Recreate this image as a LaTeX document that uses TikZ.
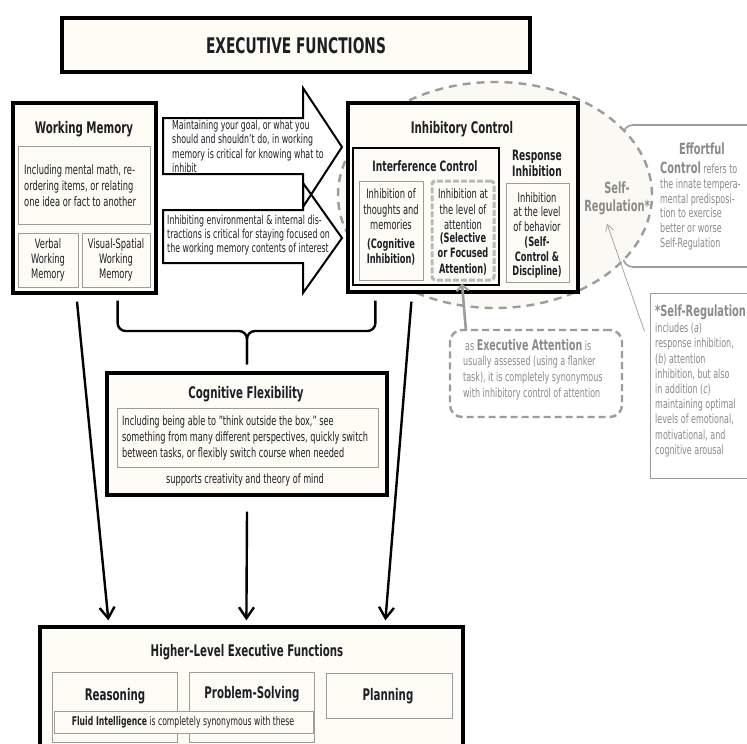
\documentclass[tikz,border=0pt]{standalone}
\usepackage{fontspec}
\setmainfont{DejaVu Sans}[FakeStretch=0.64]
\usetikzlibrary{arrows.meta,shapes.geometric,calc}
\definecolor{cream}{HTML}{FDFCF5}
\definecolor{srfill}{HTML}{FAF9F3}
\definecolor{ink}{HTML}{1E1E26}
\definecolor{gtxt}{HTML}{8A8A8A}
\definecolor{gline}{HTML}{9C9C9C}
\begin{document}
\begin{tikzpicture}[x=1pt,y=-1pt,
  bigbox/.style={draw=black, line width=3.2pt, fill=cream, inner sep=0pt},
  midbox/.style={draw=black, line width=2pt, fill=cream, inner sep=0pt},
  thinbox/.style={draw=gline, line width=0.9pt, fill=cream, inner sep=0pt},
  ttl/.style={font=\bfseries\fontsize{16}{18}\selectfont, text=ink, inner sep=0pt},
  sttl/.style={font=\bfseries\fontsize{14.3}{16}\selectfont, text=ink, inner sep=0pt, align=center},
  body/.style={font=\fontsize{13}{16}\selectfont, text=ink, inner sep=0pt},
  bodyb/.style={font=\bfseries\fontsize{12.9}{14.5}\selectfont, text=ink, inner sep=0pt, align=center},
  small/.style={font=\fontsize{12.3}{14.3}\selectfont, text=ink, inner sep=0pt, align=left},
  gnote/.style={font=\fontsize{12.5}{15.2}\selectfont, text=gtxt, inner sep=0pt, align=left},
  gbold/.style={font=\bfseries\fontsize{15.4}{18}\selectfont, text=gtxt, inner sep=0pt, align=center},
  flow/.style={line width=2.4pt, -{Straight Barb[length=11pt,width=15pt,line width=2.4pt]}},
  brace/.style={line width=2.4pt, rounded corners=8pt},
  blockarrow/.style={draw=black, line width=2pt, line join=miter}
]
\clip (0,0) rectangle (747,744);
\fill[white] (0,0) rectangle (747,744);

% ---------- title ----------
\node[bigbox, minimum width=468pt, minimum height=54pt] (ef) at (296,45) {};
\node[font=\bfseries\fontsize{21.5}{24}\selectfont, text=ink, inner sep=0pt] (eft) at (296,46) {EXECUTIVE FUNCTIONS};

% ---------- effortful control & self-regulation ellipse ----------
\node[draw=gline, line width=1.6pt, rounded corners=10pt, fill=white, minimum width=142pt, minimum height=142pt, inner sep=0pt] (efc) at (694,196) {};
\node[ellipse, fill=srfill, draw=gline, line width=2.4pt, dash pattern=on 8pt off 6pt, minimum width=314pt, minimum height=226pt, inner sep=0pt] (sr) at (495,195) {};

\node[gbold] (srt) at (617,198) {Self-\\Regulation*};
\node[gbold] (eft1) at (702,149) {Effortful};
\node[gnote, anchor=west] (eft2) at (660,168) {{\bfseries\fontsize{15.4}{16}\selectfont Control} refers to};
\node[gnote, font=\fontsize{12.5}{14.8}\selectfont, anchor=west] (eft3) at (660,214.5) {the innate tempera-\\mental predisposi-\\tion to exercise\\better or worse\\Self-Regulation};

% ---------- working memory ----------
\node[bigbox, minimum width=143pt, minimum height=190pt] (wm) at (84.5,198) {};
\node[ttl] (wmt) at (84,129) {Working Memory};
\node[thinbox, minimum width=132pt, minimum height=78pt] (wmi) at (84,185) {};
\node[body, align=left, anchor=west] (wmit) at (24,186) {Including mental math, re-\\ordering items, or relating\\one idea or fact to another};
\node[thinbox, minimum width=60pt, minimum height=54pt] (vwm) at (48,260) {};
\node[body, align=center, font=\fontsize{13}{15}\selectfont] (vwmt) at (48,260) {Verbal\\Working\\Memory};
\node[thinbox, minimum width=68pt, minimum height=54pt] (vswm) at (116,260) {};
\node[body, align=center, font=\fontsize{13}{15}\selectfont] (vswmt) at (116,260) {Visual-Spatial\\Working\\Memory};

% ---------- block arrows ----------
\fill[white] (163,118) -- (303,118) -- (303,88) -- (342,147) -- (303,207) -- (303,174) -- (163,174) -- cycle;
\fill[white] (163,210) -- (303,210) -- (303,183) -- (342,238) -- (303,293) -- (303,263) -- (163,263) -- cycle;
\draw[blockarrow] (163,118) -- (303,118) -- (303,88) -- (342,147) -- (303,207) -- (303,174) -- (163,174) -- cycle;
\draw[blockarrow] (163,210) -- (303,210) -- (303,183) -- (342,238) -- (303,293) -- (303,263) -- (163,263) -- cycle;
\node[small, anchor=west] (a1t) at (172,146.5) {Maintaining your goal, or what you\\should and shouldn't do, in working\\memory is critical for knowing what to\\inhibit};
\node[small, font=\fontsize{12.3}{14}\selectfont, anchor=west] (a2t) at (167,235) {Inhibiting environmental \& internal dis-\\tractions is critical for staying focused on\\the working memory contents of interest};

% ---------- inhibitory control ----------
\node[bigbox, minimum width=230pt, minimum height=189pt] (ic) at (463,197.5) {};
\node[ttl] (ict) at (462,129) {Inhibitory Control};
\node[midbox, minimum width=146pt, minimum height=137pt] (intc) at (426,216.5) {};
\node[sttl] (intct) at (425,166) {Interference Control};
\node[thinbox, minimum width=64pt, minimum height=99pt] (s1) at (391,230.5) {};
\node[body, align=center, font=\fontsize{13}{15.5}\selectfont] (s1a) at (391,209.5) {Inhibition of\\thoughts and\\memories};
\node[bodyb] (s1b) at (391,252) {(Cognitive\\Inhibition)};
\node[draw=gray!55, line width=3pt, dash pattern=on 6pt off 2pt, rounded corners=3pt, fill=cream, minimum width=62pt, minimum height=99pt, inner sep=0pt] (s2) at (463,230.5) {};
\node[body, align=center, font=\fontsize{13}{15.5}\selectfont] (s2a) at (463,209.5) {Inhibition at\\the level of\\attention};
\node[bodyb, font=\bfseries\fontsize{12.9}{15.5}\selectfont] (s2b) at (463,253.5) {(Selective\\or Focused\\Attention)};
\node[sttl] (rit) at (537,163) {Response\\Inhibition};
\node[thinbox, minimum width=63pt, minimum height=99pt] (s3) at (537.5,232.5) {};
\node[body, align=center, font=\fontsize{13}{14.5}\selectfont] (s3a) at (537,212) {Inhibition\\at the level\\of behavior};
\node[bodyb] (s3b) at (537,257.5) {(Self-\\Control \&\\Discipline)};

% ---------- executive attention ----------
\node[draw=gline, line width=2.4pt, dash pattern=on 7pt off 4pt, rounded corners=12pt, fill=white, minimum width=172pt, minimum height=87pt, inner sep=0pt] (ea) at (536,373.5) {};
\node[gnote, anchor=west] (ea1) at (465,345) {as {\bfseries\fontsize{14.8}{16}\selectfont Executive Attention} is};
\node[gnote, font=\fontsize{12.5}{16}\selectfont, anchor=west] (ea2) at (463,378) {usually assessed (using a flanker\\task), it is completely synonymous\\with inhibitory control of attention};
\draw[gline, line width=2.6pt, -{Straight Barb[length=6pt,width=12pt,line width=2pt]}] ($(ea.north west)+(17,0)$) -- ($(s2.south)+(-1,2)$);

% ---------- self-regulation note ----------
\node[draw=gline, line width=1pt, fill=white, minimum width=120pt, minimum height=185pt, inner sep=0pt] (srn) at (710,385.5) {};
\node[gbold, anchor=west] (srn1) at (655,312) {*Self-Regulation};
\node[gnote, anchor=west] (srn2) at (655,390) {includes (\textit{a})\\response inhibition,\\(\textit{b}) attention\\inhibition, but also\\in addition (\textit{c})\\maintaining optimal\\levels of emotional,\\motivational, and\\cognitive arousal};
\draw[gline, line width=0.7pt, -{Straight Barb[length=7pt,width=8pt]}] ($(srn.north west)+(-5,39)$) -- ($(srt.south)+(-10,9)$);

% ---------- cognitive flexibility ----------
\node[bigbox, minimum width=280pt, minimum height=122pt] (cf) at (247,434) {};
\node[ttl] (cft) at (246,394) {Cognitive Flexibility};
\node[thinbox, minimum width=261pt, minimum height=59pt] (cfi) at (247.5,437.5) {};
\node[body, align=left, anchor=west, font=\fontsize{12.8}{16}\selectfont] (cfit) at (122,438) {Including being able to "think outside the box," see\\something from many different perspectives, quickly switch\\between tasks, or flexibly switch course when needed};
\node[body, font=\fontsize{12.8}{14}\selectfont] (cfs) at (245,480) {supports creativity and theory of mind};

% ---------- brace ----------
\coordinate (bl) at ($(wm.south east)+(-40,6)$);
\coordinate (br) at ($(ic.south west)+(29,7)$);
\coordinate (bm) at ($(cf.north)+(0,-7)$);
\coordinate (bj) at (247,331);
\draw[brace] (bl) |- (bj) -- (bm);
\draw[brace] (br) |- (bj) -- (bm);

% ---------- higher-level executive functions ----------
\node[bigbox, minimum width=423pt, minimum height=140pt] (hef) at (251.5,697) {};
\node[ttl] (heft) at (247,652) {Higher-Level Executive Functions};
\node[thinbox, minimum width=125pt, minimum height=70pt] (rs) at (114.5,707) {};
\node[thinbox, minimum width=125pt, minimum height=70pt] (ps) at (251.5,707) {};
\node[thinbox, minimum width=126pt, minimum height=45pt] (pl) at (389,695.5) {};
\node[ttl] (rst) at (115,696) {Reasoning};
\node[ttl] (pst) at (252,694) {Problem-Solving};
\node[ttl] (plt) at (388,696) {Planning};
\node[thinbox, minimum width=259pt, minimum height=22pt] (fi) at (183.5,722) {};
\node[small, font=\fontsize{12}{13}\selectfont] (fit) at (183,722) {{\bfseries Fluid Intelligence} is completely synonymous with these};

% ---------- flow arrows ----------
\draw[flow] ($(wm.south)+(-7.5,7)$) -- ($(hef.north west)+(70,-5)$);
\draw[flow] ($(cf.south)+(0,15)$) -- ($(hef.north west)+(208,-5)$);
\draw[flow] ($(ic.south west)+(65,8)$) -- ($(hef.north west)+(347,-5)$);
\end{tikzpicture}
\end{document}
